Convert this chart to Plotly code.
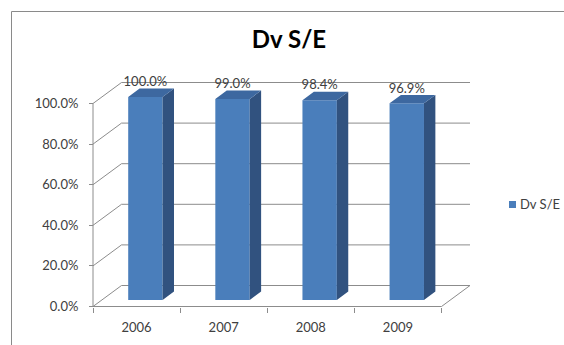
import plotly.graph_objects as go

# ---- data ----
years = ["2006", "2007", "2008", "2009"]
share = [100.0, 99.0, 98.4, 96.9]
value_ticks = [0, 20, 40, 60, 80, 100]
series_name = "Dv S/E"
chart_title = "Dv S/E"

# ---- layout geometry (pixels) ----
W, H = 564, 345
X0, X1 = 93.0, 441.5          # front edge of the floor
Y0, Y100 = 306.5, 103.5       # 0 % and 100 % on the front axis
cat_px = (X1 - X0) / len(years)
val_px = (Y0 - Y100) / 100.0

# oblique depth of the box, in axis units
DX = 28.5 / cat_px
DY = 21.0 / val_px
F0, F1 = 0.31, 0.71            # front / back depth of the columns
BAR_W = 34.4 / cat_px
LABEL_GAP = 14.0 / val_px

FRONT = "#4A7EBB"
SIDE = "#31527F"
TOP = "#3D68A0"
GRID = "#8C8C8C"
TXT = "#404040"
FONT = "Lato"

n = len(years)
xs = list(range(n))
x_lo, x_hi = -0.5, n - 0.5
v_lo, v_hi = value_ticks[0], value_ticks[-1]

fig = go.Figure()

# front faces of the columns
fig.add_trace(go.Bar(
    x=[i + F0 * DX for i in xs], y=share, base=F0 * DY, width=BAR_W,
    marker=dict(color=FRONT, line=dict(width=0)),
    showlegend=False, hoverinfo="skip",
))

# right side faces and top faces
ddx, ddy = (F1 - F0) * DX, (F1 - F0) * DY
side_x, side_y, top_x, top_y = [], [], [], []
for i, v in zip(xs, share):
    xl = i + F0 * DX - BAR_W / 2
    xr = i + F0 * DX + BAR_W / 2
    b = F0 * DY
    t = v + F0 * DY
    side_x += [xr, xr + ddx, xr + ddx, xr, xr, None]
    side_y += [b, b + ddy, t + ddy, t, b, None]
    top_x += [xl, xr, xr + ddx, xl + ddx, xl, None]
    top_y += [t, t, t + ddy, t + ddy, t, None]

fig.add_trace(go.Scatter(x=side_x, y=side_y, fill="toself", fillcolor=SIDE,
                         mode="lines", line=dict(width=0, color=SIDE),
                         showlegend=False, hoverinfo="skip"))
fig.add_trace(go.Scatter(x=top_x, y=top_y, fill="toself", fillcolor=TOP,
                         mode="lines", line=dict(width=0, color=TOP),
                         showlegend=False, hoverinfo="skip"))

# value labels
fig.add_trace(go.Scatter(
    x=[i + F0 * DX for i in xs],
    y=[v + F0 * DY + LABEL_GAP for v in share],
    mode="text", text=[f"{v:.1f}%" for v in share],
    textfont=dict(family=FONT, size=13, color=TXT),
    showlegend=False, hoverinfo="skip",
))

# back wall gridlines, left wall diagonals and floor edge
shapes = []
for v in value_ticks:
    shapes.append(dict(type="line", xref="x", yref="y", layer="below",
                       x0=x_lo + DX, y0=v + DY, x1=x_hi + DX, y1=v + DY,
                       line=dict(color=GRID, width=1)))
    shapes.append(dict(type="line", xref="x", yref="y", layer="below",
                       x0=x_lo, y0=v, x1=x_lo + DX, y1=v + DY,
                       line=dict(color=GRID, width=1)))
shapes.append(dict(type="line", xref="x", yref="y", layer="below",
                   x0=x_hi, y0=v_lo, x1=x_hi + DX, y1=v_lo + DY,
                   line=dict(color=GRID, width=1)))

# front axis lines
shapes.append(dict(type="line", xref="x", yref="y", layer="above",
                   x0=x_lo, y0=v_lo, x1=x_lo, y1=v_hi,
                   line=dict(color=GRID, width=1)))
shapes.append(dict(type="line", xref="x", yref="y", layer="above",
                   x0=x_lo, y0=v_lo, x1=x_hi, y1=v_lo,
                   line=dict(color=GRID, width=1)))

# chart frame (top and left edges)
shapes.append(dict(type="line", xref="paper", yref="paper",
                   x0=11.5 / W, y0=1 - 11.5 / H, x1=1.0, y1=1 - 11.5 / H,
                   line=dict(color="#8A8A8A", width=1)))
shapes.append(dict(type="line", xref="paper", yref="paper",
                   x0=11.5 / W, y0=0, x1=11.5 / W, y1=1 - 11.5 / H,
                   line=dict(color="#8A8A8A", width=1)))

# legend key
shapes.append(dict(type="rect", xref="paper", yref="paper",
                   x0=509 / W, x1=516 / W, y0=1 - 208 / H, y1=1 - 201 / H,
                   fillcolor=FRONT, line=dict(width=0)))

fig.update_layout(
    width=W, height=H,
    margin=dict(l=0, r=0, t=0, b=0, autoexpand=False),
    paper_bgcolor="white", plot_bgcolor="rgba(0,0,0,0)",
    showlegend=False,
    shapes=shapes,
    title=dict(text=chart_title, x=289 / W, xanchor="center",
               y=1 - 40 / H, yanchor="middle",
               font=dict(family=FONT, size=24, color="#000000", weight="bold")),
    annotations=[dict(text=series_name, xref="paper", yref="paper",
                      x=518 / W, y=1 - 204.5 / H, xanchor="left", yanchor="middle",
                      showarrow=False, font=dict(family=FONT, size=13, color=TXT))],
    # axes span the whole canvas; ticks sit on the front edges of the box
    xaxis=dict(domain=[0, 1], range=[x_lo - X0 / cat_px, x_lo + (W - X0) / cat_px],
               autorange=False, automargin=False,
               anchor="free", position=(H - Y0) / H,
               tickmode="array", tickvals=xs, ticktext=years, ticks="",
               minor=dict(tickmode="array", tickvals=[x_lo + k for k in range(n + 1)],
                          ticks="outside", ticklen=5, tickcolor=GRID, showgrid=False),
               showline=False, showgrid=False, zeroline=False, fixedrange=True,
               tickfont=dict(family=FONT, size=13, color=TXT),
               ticklabelstandoff=11),
    yaxis=dict(domain=[0, 1], range=[v_lo - (H - Y0) / val_px, v_lo + Y0 / val_px],
               autorange=False, automargin=False,
               anchor="free", position=X0 / W,
               tickmode="array", tickvals=value_ticks,
               ticktext=[f"{v:.1f}%" for v in value_ticks],
               ticks="outside", ticklen=4, tickcolor=GRID,
               showline=False, showgrid=False, zeroline=False, fixedrange=True,
               tickfont=dict(family=FONT, size=13, color=TXT),
               ticklabelstandoff=8),
)

fig.write_html("out.html")
